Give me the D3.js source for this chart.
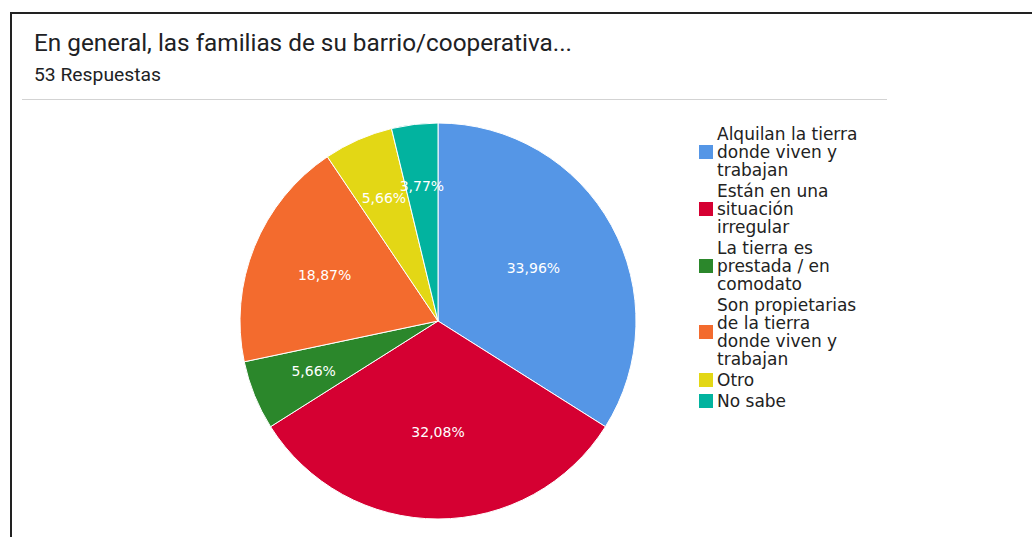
<!DOCTYPE html>
<html>
<head>
<meta charset="utf-8">
<script src="https://cdn.jsdelivr.net/npm/d3@7"></script>
<style>
  body { margin: 0; background: #fff; }
</style>
</head>
<body>
<script>
var categories = [
  "Alquilan la tierra donde viven y trabajan",
  "Están en una situación irregular",
  "La tierra es prestada / en comodato",
  "Son propietarias de la tierra donde viven y trabajan",
  "Otro",
  "No sabe"
];
var counts = [18, 17, 3, 10, 3, 2];
var legendLines = [
  ["Alquilan la tierra", "donde viven y", "trabajan"],
  ["Están en una", "situación", "irregular"],
  ["La tierra es", "prestada / en", "comodato"],
  ["Son propietarias", "de la tierra", "donde viven y", "trabajan"],
  ["Otro"],
  ["No sabe"]
];
var colors = ["#5596e6", "#d50032", "#2b872b", "#f36b2e", "#e3d715", "#02b39f"];
var title = "En general, las familias de su barrio/cooperativa...";
var subtitle = "53 Respuestas";

function main(){
  drawChart();
}

function drawChart(){
  var W = 1032, H = 537;
  var svg = d3.select('body').append('svg').attr('width', W).attr('height', H);

  // frame
  svg.append('rect')
    .attr('x', 11).attr('y', 13)
    .attr('width', W + 20).attr('height', H + 20)
    .attr('fill', 'none').attr('stroke', '#222').attr('stroke-width', 2);

  svg.append('text')
    .attr('x', 34).attr('y', 51)
    .attr('font-family', 'Roboto').attr('font-size', 23)
    .attr('fill', '#202124')
    .attr('textLength', 538).attr('lengthAdjust', 'spacingAndGlyphs')
    .text(title);

  svg.append('text')
    .attr('x', 34).attr('y', 81)
    .attr('font-family', 'Roboto').attr('font-size', 18)
    .attr('fill', '#202124')
    .attr('textLength', 127).attr('lengthAdjust', 'spacingAndGlyphs')
    .text(subtitle);

  svg.append('line')
    .attr('x1', 22).attr('x2', 887).attr('y1', 99.5).attr('y2', 99.5)
    .attr('stroke', '#d3d3d3').attr('stroke-width', 1);

  // pie
  var cx = 438, cy = 321, R = 198;
  var total = d3.sum(counts);
  var pie = d3.pie().sort(null).value(function(d){ return d; });
  var arcs = pie(counts);
  var arc = d3.arc().innerRadius(0).outerRadius(R);
  var color = d3.scaleOrdinal().domain(categories).range(colors);

  var g = svg.append('g').attr('transform', 'translate(' + cx + ',' + cy + ')');
  g.selectAll('path')
    .data(arcs)
    .enter()
    .append('path')
    .attr('d', arc)
    .attr('fill', function(d, i){ return color(categories[i]); })
    .attr('stroke', '#fff').attr('stroke-width', 1);

  var fmt = function(v){ return (v / total * 100).toFixed(2).replace('.', ',') + '%'; };
  g.selectAll('text.lbl')
    .data(arcs)
    .enter()
    .append('text')
    .attr('class', 'lbl')
    .attr('transform', function(d){
      // smaller slices get their label pushed further out
      var frac = d.value / total;
      var r = R * (0.703 - 0.45 * frac);
      var a = (d.startAngle + d.endAngle) / 2;
      return 'translate(' + (Math.sin(a) * r) + ',' + (-Math.cos(a) * r) + ')';
    })
    .attr('text-anchor', 'middle')
    .attr('dominant-baseline', 'central')
    .attr('font-family', 'DejaVu Sans').attr('font-size', 14)
    .attr('fill', '#fff')
    .text(function(d){ return fmt(d.value); });

  // legend
  var lineH = 18, lx = 699, ly = 134;
  var leg = svg.append('g');
  var y = ly;
  legendLines.forEach(function(lines, i){
    var mid = y + (lines.length - 1) * lineH / 2;
    leg.append('rect')
      .attr('x', lx).attr('y', mid - 7)
      .attr('width', 14).attr('height', 14)
      .attr('fill', colors[i]);
    var t = leg.append('text')
      .attr('font-family', 'DejaVu Sans').attr('font-size', 17)
      .attr('fill', '#222');
    lines.forEach(function(s, j){
      t.append('tspan')
        .attr('x', lx + 18).attr('y', y + j * lineH)
        .attr('dominant-baseline', 'central')
        .text(s);
    });
    y += lines.length * lineH + 3;
  });
}

main();
</script>
</body>
</html>
